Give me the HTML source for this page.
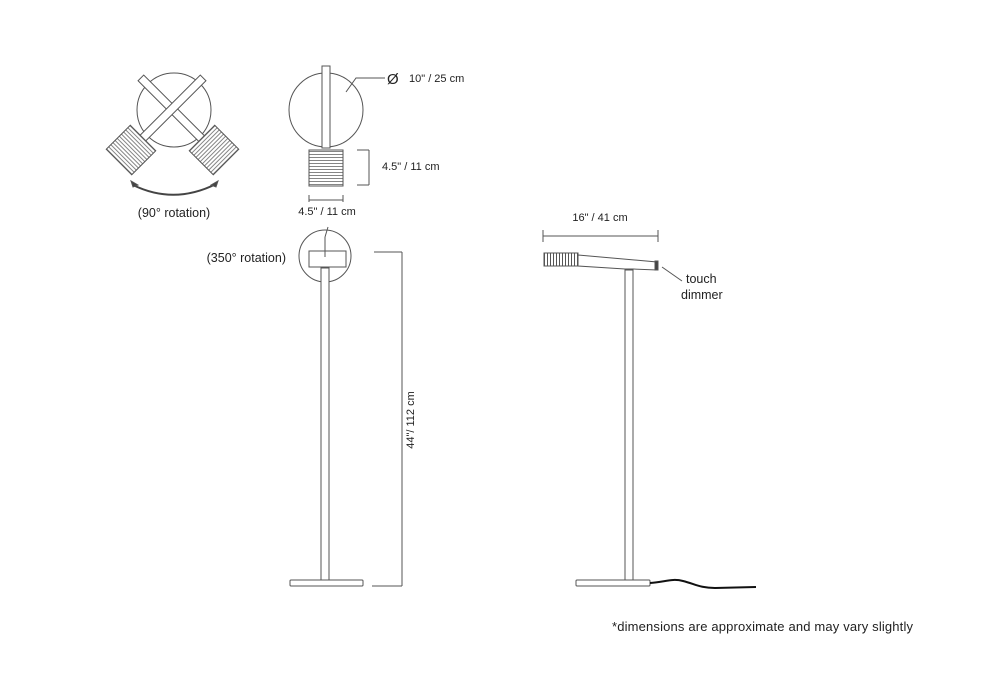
<!DOCTYPE html>
<html><head><style>
body{margin:0;background:#fff;}
svg{display:block;font-family:"Liberation Sans",sans-serif;}
</style></head><body>
<svg width="1000" height="700" viewBox="0 0 1000 700">
<defs>
<pattern id="rib" width="3" height="3" patternUnits="userSpaceOnUse"><rect width="3" height="3" fill="#fff"/><line x1="0" y1="1.5" x2="3" y2="1.5" stroke="#666" stroke-width="0.8"/></pattern>
<pattern id="ribv" width="3" height="3" patternUnits="userSpaceOnUse"><rect width="3" height="3" fill="#fff"/><line x1="1.5" y1="0" x2="1.5" y2="3" stroke="#555" stroke-width="1"/></pattern>
</defs>
<g fill="none" stroke="#555" stroke-width="1">
<circle cx="174" cy="110" r="37"/>
<g transform="rotate(45 172 109)"><rect x="128" y="105" width="88" height="8" fill="#fff"/></g>
<g transform="rotate(-45 172 109)"><rect x="128" y="105" width="88" height="8" fill="#fff"/></g>
<g transform="rotate(45 131 150)"><rect x="113" y="133" width="36" height="34" fill="url(#rib)"/></g>
<g transform="rotate(-45 214 150)"><rect x="196" y="133" width="36" height="34" fill="url(#rib)"/></g>
<path d="M133 185 Q174 205 216 184" stroke="#444" stroke-width="2"/>
<path d="M131 181 l2 6 5 -2z M218 181 l-2 6 -5 -2z" fill="#444"/>
<circle cx="326" cy="110" r="37"/>
<rect x="322" y="66" width="8" height="82" fill="#fff"/>
<rect x="309" y="150" width="34" height="36" fill="url(#rib)"/>
<path d="M357 150h12M369 150v35M357 185h12"/>
<path d="M309 195v7M309 200h34M343 195v7"/>
<path d="M346 92 L356 78 H385"/>
<circle cx="325" cy="256" r="26"/>
<rect x="309" y="251" width="37" height="16" fill="#fff"/>
<path d="M325 237v20M325 237l3 -10"/>
<rect x="321" y="268" width="8" height="312" fill="#fff"/>
<rect x="290" y="580" width="73" height="6" rx="1" fill="#fff"/>
<path d="M374 252h28M402 252v334M372 586h30"/>
<rect x="625" y="270" width="8" height="310" fill="#fff"/>
<path d="M578 255 L657 262 V270 L633 269 L625 269 L578 266Z" fill="#fff"/>
<rect x="544" y="253" width="34" height="13" fill="url(#ribv)"/>
<rect x="655" y="261" width="3" height="9" fill="#444"/>
<path d="M543 230v12M543 236h115M658 230v12"/>
<path d="M662 267 L682 281"/>
<rect x="576" y="580" width="74" height="6" rx="1" fill="#fff"/>
<path d="M650 583 C665 582 672 578 683 581 C695 584 700 588 715 588 L756 587" stroke="#111" stroke-width="2"/>
</g>
<g fill="#222" font-size="12">
<text x="387" y="84" font-size="15">Ø</text>
<text x="409" y="82" font-size="11">10" / 25 cm</text>
<text x="382" y="170" font-size="11">4.5" / 11 cm</text>
<text x="327" y="215" font-size="11" text-anchor="middle">4.5" / 11 cm</text>
<text x="174" y="217" font-size="12.5" text-anchor="middle">(90° rotation)</text>
<text x="286" y="262" font-size="12.5" text-anchor="end">(350° rotation)</text>
<text transform="translate(414 420) rotate(-90)" font-size="11" text-anchor="middle">44"/ 112 cm</text>
<text x="600" y="221" font-size="11" text-anchor="middle">16" / 41 cm</text>
<text x="686" y="283" font-size="12.5">touch</text>
<text x="681" y="299" font-size="12.5">dimmer</text>
<text x="612" y="631" font-size="13" textLength="301">*dimensions are approximate and may vary slightly</text>
</g>
</svg>
</body></html>
